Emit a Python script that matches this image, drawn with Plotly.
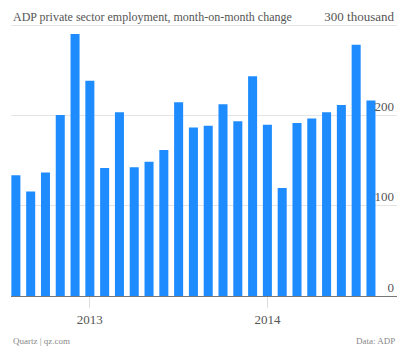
import plotly.graph_objects as go

# Data (thousands), month-on-month change, 25 months
months = ["Jul 2012", "Aug 2012", "Sep 2012", "Oct 2012", "Nov 2012", "Dec 2012",
          "Jan 2013", "Feb 2013", "Mar 2013", "Apr 2013", "May 2013", "Jun 2013",
          "Jul 2013", "Aug 2013", "Sep 2013", "Oct 2013", "Nov 2013", "Dec 2013",
          "Jan 2014", "Feb 2014", "Mar 2014", "Apr 2014", "May 2014", "Jun 2014",
          "Jul 2014"]
values = [134, 116, 137, 201, 291, 239, 142, 204, 143, 149, 162, 215,
          187, 189, 213, 194, 244, 190, 120, 192, 197, 204, 212, 279, 217]
x_tick_index = [5, 17]
x_tick_labels = ["2013", "2014"]
y_tick_vals = [0, 100, 200, 300]
y_tick_labels = ["0", "100", "200", "300 thousand"]

FONT = "Liberation Serif"
BLUE = "#1e8cff"

idx = list(range(len(values)))

fig = go.Figure(go.Bar(x=idx, y=values, marker=dict(color=BLUE, line=dict(width=0)),
                       hovertext=months))

fig.update_layout(
    width=406, height=352,
    margin=dict(l=11, r=9, t=22, b=56),
    paper_bgcolor="white", plot_bgcolor="white",
    bargap=0.39,
    showlegend=False,
    font=dict(family=FONT, color="#555555"),
)
fig.update_xaxes(
    range=[-0.33, 25.76],
    tickmode="array", tickvals=x_tick_index, ticktext=x_tick_labels,
    showgrid=False, zeroline=False,
    showline=False,
    ticks="outside", ticklen=11, tickcolor="#dddddd", tickwidth=1,
    tickfont=dict(size=13, color="#555555", family=FONT),
)
fig.update_yaxes(
    range=[0, 302],
    side="right",
    tickmode="array", tickvals=y_tick_vals, ticktext=y_tick_labels,
    ticklabelposition="inside", ticklabelshift=-9, ticklabeloverflow="allow",
    showgrid=True, gridcolor="#e4e4e4", gridwidth=1,
    zeroline=True, zerolinecolor="#777777", zerolinewidth=1,
    showline=False, ticks="",
    tickfont=dict(size=13, color="#555555", family=FONT),
)

fig.add_annotation(text="ADP private sector employment, month-on-month change",
                   xref="paper", yref="paper", x=0, y=1, xanchor="left", yanchor="middle",
                   yshift=7, showarrow=False, font=dict(size=12, color="#555555", family=FONT))
fig.add_annotation(text="Quartz | qz.com", xref="paper", yref="paper", x=0, y=0,
                   xanchor="left", yanchor="middle", yshift=-45, showarrow=False,
                   font=dict(size=9, color="#888888", family=FONT))
fig.add_annotation(text="Data: ADP", xref="paper", yref="paper", x=1, y=0,
                   xanchor="right", yanchor="middle", yshift=-45, showarrow=False,
                   font=dict(size=9, color="#888888", family=FONT))

fig.write_html("out.html")
